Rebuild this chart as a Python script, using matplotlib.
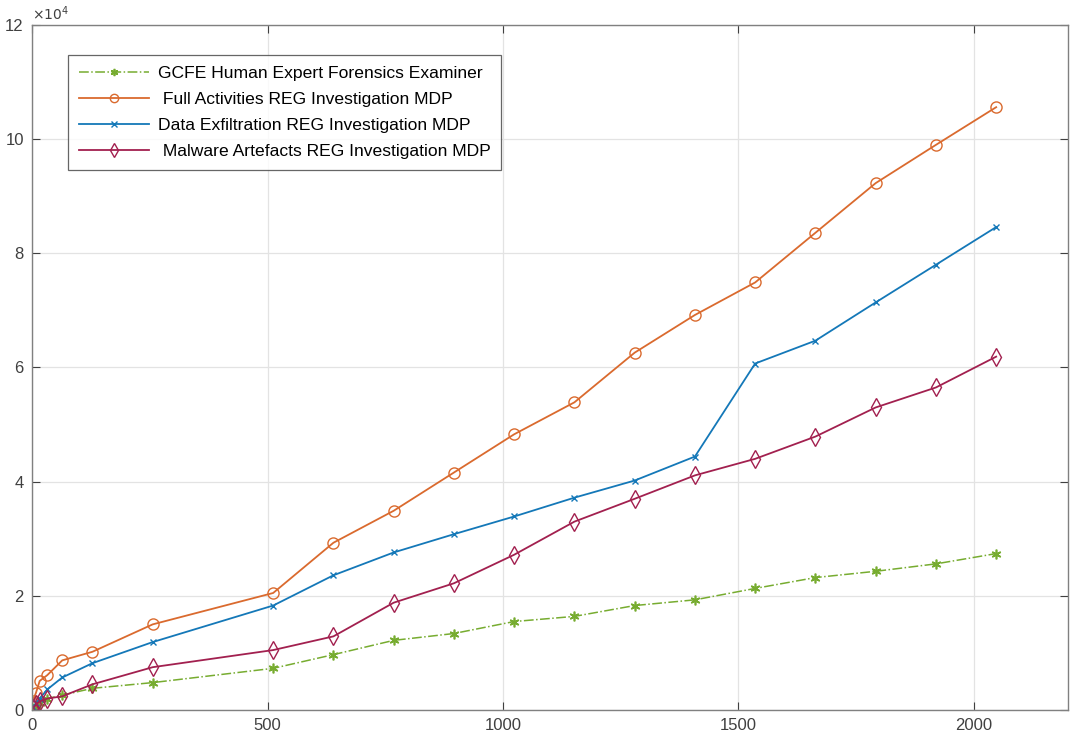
import numpy as np
import matplotlib
matplotlib.use("Agg")
import matplotlib.pyplot as plt

# number of registry keys examined
keys = [1, 8, 16, 32, 64, 128, 256, 512, 640, 768, 896, 1024, 1152,
        1280, 1408, 1536, 1664, 1792, 1920, 2048]

# investigation time for each approach
gcfe = [100, 700, 1200, 2000, 2600, 3800, 4800, 7300, 9700, 12200, 13400,
        15500, 16400, 18300, 19300, 21300, 23200, 24300, 25600, 27400]
full_activities = [1500, 3000, 5100, 6100, 8700, 10200, 15000, 20500, 29300,
                   34900, 41600, 48300, 53900, 62600, 69200, 74900, 83600,
                   92300, 99000, 105600]
data_exfil = [500, 1200, 2000, 3600, 5700, 8200, 11900, 18300, 23600, 27600,
              30800, 33900, 37200, 40200, 44400, 60700, 64700, 71400, 78000,
              84600]
malware = [300, 1000, 1500, 2000, 2400, 4500, 7500, 10500, 12900, 18800,
           22200, 27200, 33000, 37000, 41100, 44000, 47900, 53000, 56500,
           61900]

plt.rcParams['font.family'] = ['Liberation Sans', 'DejaVu Sans']

fig = plt.figure(figsize=(10.72, 7.35), dpi=100)
ax = fig.add_axes([0.030, 0.034, 0.966, 0.932])

ax.plot(keys, gcfe, '-.', color='#77AC30', marker=(6, 2, 0), markersize=7,
        markeredgewidth=1.2, linewidth=1.1,
        label='GCFE Human Expert Forensics Examiner')
ax.plot(keys, full_activities, '-', color='#DA6A2E', marker='o',
        markersize=8, markerfacecolor='none', linewidth=1.3,
        label=' Full Activities REG Investigation MDP')
ax.plot(keys, data_exfil, '-', color='#1478B8', marker='x', markersize=5,
        linewidth=1.3, label='Data Exfiltration REG Investigation MDP')
ax.plot(keys, malware, '-', color='#A2204F', marker='d', markersize=9,
        markerfacecolor='none', linewidth=1.3,
        label=' Malware Artefacts REG Investigation MDP')

ax.set_xlim(0, 2200)
ax.set_ylim(0, 120000)
ax.set_xticks([0, 500, 1000, 1500, 2000])
ax.set_yticks(np.arange(0, 120001, 20000))
ax.set_yticklabels([str(v) for v in range(0, 13, 2)])
ax.text(0, 1.003, r'$\times10^4$', transform=ax.transAxes, fontsize=10,
        color='#404040', va='bottom', ha='left')

ax.grid(True, color='#e3e3e3', linewidth=0.9)
ax.set_axisbelow(True)
ax.tick_params(direction='in', top=True, right=True, length=6,
               labelsize=12, colors='#404040', pad=6)
for s in ax.spines.values():
    s.set_color('#808080')
    s.set_linewidth(1.0)

leg = ax.legend(loc='upper left', bbox_to_anchor=(0.035, 0.956),
                borderaxespad=0, fontsize=12.6, frameon=True, fancybox=False,
                edgecolor='#404040', handlelength=4.0, handletextpad=0.5,
                borderpad=0.6, labelspacing=0.62, markerscale=0.75)
leg.get_frame().set_linewidth(0.9)

fig.savefig('out.png', dpi=100)
